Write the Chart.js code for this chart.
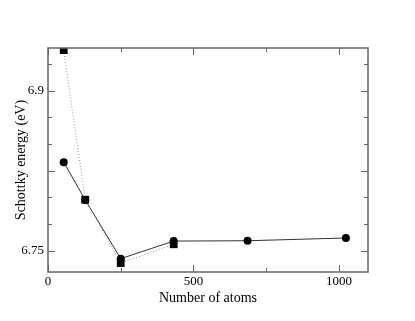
<!DOCTYPE html>
<html>
<head>
<meta charset="utf-8">
<script src="https://cdn.jsdelivr.net/npm/chart.js@4"></script>
<style>
  html, body { margin: 0; padding: 0; background: #fff; }
  #wrap { width: 415px; height: 321px; }
</style>
</head>
<body>
<div id="wrap"><canvas id="schottkyChart" width="415" height="321"></canvas></div>
<script>
// system sizes (number of atoms)
const atomsCircles = [54, 128, 250, 432, 686, 1024];
const energyCircles = [6.833, 6.7975, 6.7425, 6.759, 6.7593, 6.7619];
const atomsSquares = [54, 128, 250, 432];
const energySquares = [6.938, 6.7978, 6.7384, 6.756];

// axis ticks
const xLabelTicks = [0, 500, 1000];
const xMinorTicks = [250, 750];
const yLabelTicks = [6.75, 6.9];
const yMajorTicks = [6.75, 6.825, 6.9];
const yMinorTicks = [6.775, 6.8, 6.85, 6.875, 6.925];

const serif = "'Liberation Serif', 'Times New Roman', serif";

// inward ticks on all four sides, plus the frame
const framePlugin = {
    id: 'frame',
    afterDraw(chart) {
        const ctx = chart.ctx;
        const a = chart.chartArea;
        const xs = chart.scales.x, ys = chart.scales.y;
        ctx.save();
        ctx.strokeStyle = '#666';
        ctx.lineWidth = 1;
        ctx.beginPath();
        const xt = xLabelTicks.map(v => [v, 7]).concat(xMinorTicks.map(v => [v, 4]));
        xt.forEach(([v, len]) => {
            const px = Math.round(xs.getPixelForValue(v)) + 0.5;
            ctx.moveTo(px, a.bottom); ctx.lineTo(px, a.bottom - len);
            ctx.moveTo(px, a.top); ctx.lineTo(px, a.top + len);
        });
        const yt = yMajorTicks.map(v => [v, 7]).concat(yMinorTicks.map(v => [v, 4]));
        yt.forEach(([v, len]) => {
            const py = Math.round(ys.getPixelForValue(v)) + 0.5;
            ctx.moveTo(a.left, py); ctx.lineTo(a.left + len, py);
            ctx.moveTo(a.right, py); ctx.lineTo(a.right - len, py);
        });
        ctx.stroke();
        ctx.lineWidth = 1.5;
        ctx.strokeRect(a.left, a.top, a.right - a.left, a.bottom - a.top);
        ctx.restore();
    }
};

const chart = new Chart(document.getElementById('schottkyChart').getContext('2d'), {
    type: 'scatter',
    data: {
        datasets: [{
            label: 'squares',
            data: atomsSquares.map((n, i) => ({ x: n, y: energySquares[i] })),
            showLine: true,
            borderColor: '#999',
            borderWidth: 1,
            borderDash: [1, 2],
            pointStyle: 'rect',
            pointRadius: 5.5,
            pointBackgroundColor: '#000',
            pointBorderColor: '#000',
            pointBorderWidth: 0
        }, {
            label: 'circles',
            data: atomsCircles.map((n, i) => ({ x: n, y: energyCircles[i] })),
            showLine: true,
            borderColor: '#333',
            borderWidth: 1,
            pointStyle: 'circle',
            pointRadius: 4,
            pointBackgroundColor: '#000',
            pointBorderColor: '#000',
            pointBorderWidth: 0
        }]
    },
    options: {
        responsive: false,
        animation: false,
        layout: { padding: { left: 9, top: 48, right: 47, bottom: 14 } },
        plugins: { legend: { display: false }, tooltip: { enabled: false } },
        scales: {
            x: {
                type: 'linear',
                min: 0,
                max: 1100,
                grid: { display: false, drawTicks: false },
                border: { display: false },
                afterBuildTicks: s => { s.ticks = xLabelTicks.map(v => ({ value: v })); },
                afterFit: s => { s.height = 35; },
                ticks: { color: '#000', padding: 2, font: { family: serif, size: 13 }, maxRotation: 0,
                         callback: v => String(v) },
                title: { display: true, text: 'Number of atoms', color: '#000', padding: 0, font: { family: serif, size: 14 } }
            },
            y: {
                min: 6.73,
                max: 6.94,
                grid: { display: false, drawTicks: false },
                border: { display: false },
                afterBuildTicks: s => { s.ticks = yLabelTicks.map(v => ({ value: v })); },
                afterFit: s => { s.width = 39; },
                ticks: { color: '#000', padding: 4, font: { family: serif, size: 13 },
                         callback: v => String(+v.toFixed(3)) },
                title: { display: true, text: 'Schottky energy (eV)', color: '#000', padding: { top: 4, bottom: 0 }, font: { family: serif, size: 14 } }
            }
        }
    },
    plugins: [framePlugin]
});
</script>
</body>
</html>
